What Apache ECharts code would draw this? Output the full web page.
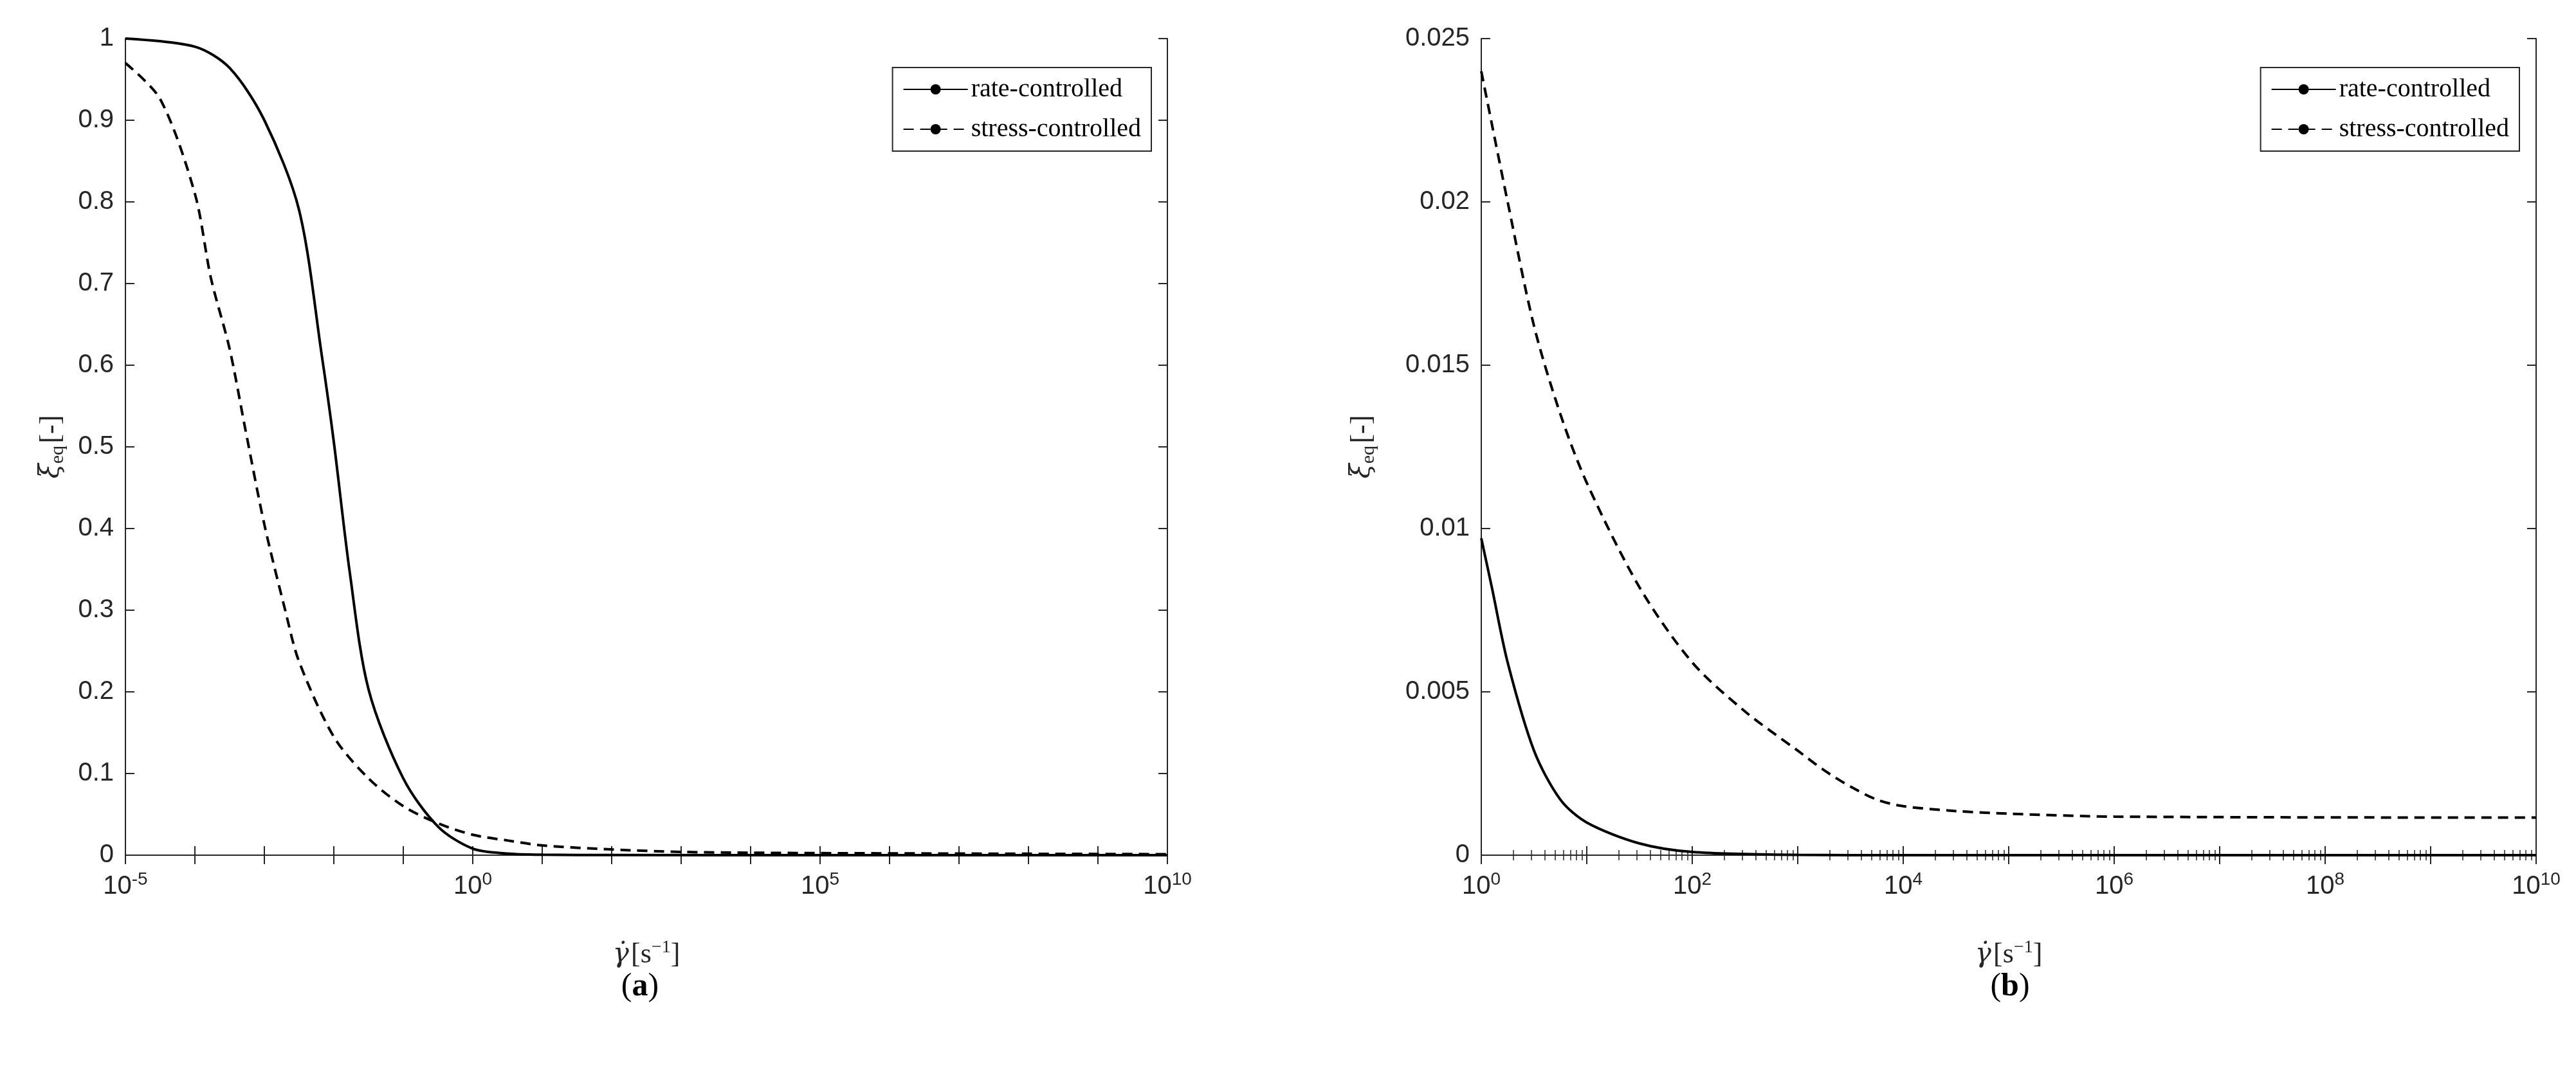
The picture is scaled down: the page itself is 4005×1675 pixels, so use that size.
<!DOCTYPE html>
<html><head><meta charset="utf-8">
<script src="https://cdn.jsdelivr.net/npm/echarts@6/dist/echarts.min.js"></script>
<style>html,body{margin:0;background:#fff}#c{width:4005px;height:1675px}</style>
</head><body><div id="c"></div>
<script>
// panel (a): x = shear rate (log), y = xi_eq
var rateA_x = [1e-5, 1e-4, 10**-3.5, 1e-3, 10**-2.5, 10**-2.17, 1e-2, 10**-1.77, 10**-1.5, 1e-1, 10**-0.5, 1, 10**0.5, 10, 100, 1e5, 1e10];
var rateA_y = [1.0, 0.99, 0.964, 0.90, 0.79, 0.61, 0.506, 0.346, 0.203, 0.094, 0.035, 0.008, 0.002, 0.0005, 0.0001, 0, 0];
var stressA_x = [1e-5, 10**-4.5, 1e-4, 10**-3.77, 10**-3.5, 10**-3.27, 1e-3, 10**-2.7, 10**-2.5, 1e-2, 10**-1.5, 1e-1, 10**-0.5, 1, 10**0.5, 10, 100, 1e3, 1e4, 1e5, 1e10];
var stressA_y = [0.97, 0.926, 0.81, 0.707, 0.62, 0.52, 0.405, 0.30, 0.237, 0.145, 0.094, 0.06, 0.039, 0.025, 0.018, 0.012, 0.007, 0.004, 0.003, 0.0025, 0.0012];
// panel (b)
var rateB_x = [1, 10**0.1, 10**0.25, 10**0.5, 10**0.75, 10, 10**1.5, 100, 1e3, 1e4, 1e10];
var rateB_y = [0.0097, 0.0082, 0.0059, 0.0032, 0.0017, 0.001, 0.00036, 0.0001, 0.00001, 0, 0];
var stressB_x = [1, 10**0.25, 10**0.5, 10**0.75, 10, 10**1.5, 100, 10**2.5, 1e3, 10**3.25, 10**3.5, 10**3.75, 1e4, 10**4.5, 1e5, 1e6, 1e10];
var stressB_y = [0.024, 0.020, 0.0162, 0.0135, 0.0114, 0.0082, 0.0059, 0.0044, 0.0032, 0.0026, 0.0021, 0.0017, 0.0015, 0.00135, 0.00127, 0.00118, 0.00115];
var legendNames = ['rate-controlled', 'stress-controlled'];

function zip(xs, ys) { return xs.map(function (x, i) { return [x, ys[i]]; }); }
var tickFont = {fontFamily: 'Liberation Sans, Arial', fontSize: 40, color: '#262626'};
function pow10(step) {
  return function (v) {
    var e = Math.round(Math.log10(v));
    if (e % step !== 0) return '';
    return '{b|10}{s|' + e + '}';
  };
}
var powRich = {b: {fontFamily: 'Liberation Sans', fontSize: 40, color: '#262626'},
               s: {fontFamily: 'Liberation Sans', fontSize: 28, color: '#262626', verticalAlign: 'top', padding: [0, 0, 22, 0]}};
var xName = '{i|γ̇} {r|[s}{s|−1}{r|]}';
var nameRich = {i: {fontFamily: 'DejaVu Serif', fontStyle: 'italic', fontSize: 42, color: '#262626'},
                r: {fontFamily: 'Liberation Serif', fontSize: 44, color: '#262626'},
                s: {fontFamily: 'Liberation Serif', fontSize: 28, color: '#262626', padding: [0, 0, 22, 0]},
                sub: {fontFamily: 'Liberation Serif', fontSize: 30, color: '#262626', padding: [20, 0, 0, 0]}};
var yName = '{i|ξ}{sub|eq} {r|[-]}';
var axLine = {show: true, lineStyle: {color: '#262626', width: 2}};

function xAxes(gi, min, max, labelStep, minorSplit) {
  var base = {type: 'log', logBase: 10, min: min, max: max, interval: 1, gridIndex: gi,
    axisLine: axLine, splitLine: {show: false},
    axisTick: {inside: true, length: 14, lineStyle: {color: '#262626', width: 2}},
    minorTick: {show: minorSplit > 0, splitNumber: minorSplit || 1, length: 8, lineStyle: {color: '#262626', width: 1.5}}};
  return [
    Object.assign({}, base, {position: 'bottom', name: xName, nameLocation: 'middle', nameGap: 130,
      nameTextStyle: {rich: nameRich},
      axisLabel: {formatter: pow10(labelStep), rich: powRich, margin: 24, interval: 0}}),
    Object.assign({}, base, {position: 'top', axisLabel: {show: false}})
  ];
}
function yAxes(gi, max, interval, gap) {
  var base = {type: 'value', min: 0, max: max, interval: interval, gridIndex: gi,
    axisLine: axLine, splitLine: {show: false},
    axisTick: {inside: true, length: 14, lineStyle: {color: '#262626', width: 2}}};
  return [
    Object.assign({}, base, {position: 'left', name: yName, nameLocation: 'middle', nameGap: gap,
      nameRotate: 90, nameTextStyle: {rich: nameRich},
      axisLabel: Object.assign({margin: 18, formatter: function (v) { return String(+v.toFixed(4)); }}, tickFont)}),
    Object.assign({}, base, {position: 'right', axisLabel: {show: false}})
  ];
}
function line(name, xi, yi, data, dashed) {
  return {name: name, type: 'line', xAxisIndex: xi, yAxisIndex: yi, data: data, smooth: 0.3,
    showSymbol: false, symbol: 'none', silent: true,
    lineStyle: {color: '#000', width: 4, type: dashed ? [16, 10] : 'solid'}, itemStyle: {color: '#000'}};
}
function legend(right) {
  return {right: right, top: 105, orient: 'vertical', data: legendNames, backgroundColor: '#fff',
    borderColor: '#262626', borderWidth: 2, borderRadius: 0, padding: [14, 16, 14, 16],
    itemWidth: 100, itemHeight: 20, itemGap: 22,
    textStyle: {fontFamily: 'Liberation Serif', fontSize: 40, color: '#000'}};
}

var chart = echarts.init(document.getElementById('c'));
chart.setOption({
  backgroundColor: '#fff',
  animation: false,
  grid: [{left: 195, right: 2190, top: 60, bottom: 345}, {left: 2303, right: 62, top: 60, bottom: 345}],
  legend: [legend(2215), legend(88)],
  title: [
    {text: '({a|a})', left: 990, top: 1505, textAlign: 'center',
     textStyle: {fontFamily: 'Liberation Serif', fontSize: 50, fontWeight: 'normal', color: '#000', rich: {a: {fontFamily: 'Liberation Serif', fontSize: 50, fontWeight: 'bold'}}}},
    {text: '({a|b})', left: 3120, top: 1505, textAlign: 'center',
     textStyle: {fontFamily: 'Liberation Serif', fontSize: 50, fontWeight: 'normal', color: '#000', rich: {a: {fontFamily: 'Liberation Serif', fontSize: 50, fontWeight: 'bold'}}}}
  ],
  xAxis: xAxes(0, 1e-5, 1e10, 5, 0).concat(xAxes(1, 1, 1e10, 2, 9)),
  yAxis: yAxes(0, 1, 0.1, 90).concat(yAxes(1, 0.025, 0.005, 160)),
  series: [
    line(legendNames[0], 0, 0, zip(rateA_x, rateA_y), false),
    line(legendNames[1], 0, 0, zip(stressA_x, stressA_y), true),
    line(legendNames[0], 2, 2, zip(rateB_x, rateB_y), false),
    line(legendNames[1], 2, 2, zip(stressB_x, stressB_y), true)
  ]
});
</script></body></html>
